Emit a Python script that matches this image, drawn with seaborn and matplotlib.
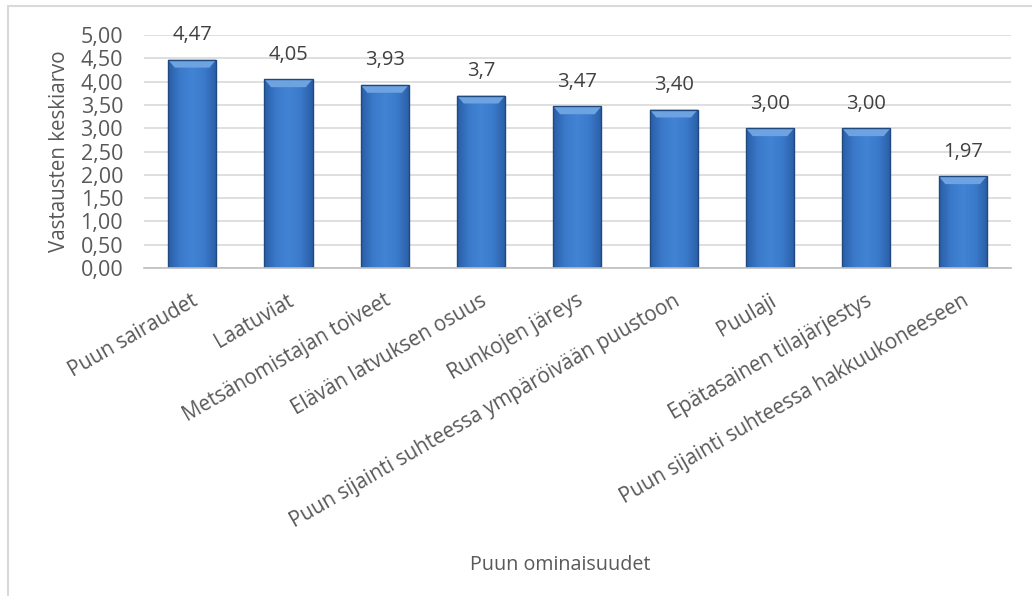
import matplotlib
matplotlib.use("Agg")
import matplotlib.pyplot as plt
import seaborn as sns
import pandas as pd
import numpy as np
from matplotlib.patches import Polygon
from matplotlib.lines import Line2D
from matplotlib.colors import LinearSegmentedColormap
import matplotlib.transforms as mtransforms

categories = ["Puun sairaudet", "Laatuviat", "Metsänomistajan toiveet",
              "Elävän latvuksen osuus", "Runkojen järeys",
              "Puun sijainti suhteessa ympäröivään puustoon", "Puulaji",
              "Epätasainen tilajärjestys", "Puun sijainti suhteessa hakkuukoneeseen"]
values = [4.47, 4.05, 3.93, 3.70, 3.47, 3.40, 3.00, 3.00, 1.97]
value_labels = ["4,47", "4,05", "3,93", "3,7", "3,47", "3,40", "3,00", "3,00", "1,97"]
ytick_vals = [0, 0.5, 1, 1.5, 2, 2.5, 3, 3.5, 4, 4.5, 5]
ytick_labels = ["0,00", "0,50", "1,00", "1,50", "2,00", "2,50", "3,00", "3,50", "4,00", "4,50", "5,00"]

df = pd.DataFrame({"cat": categories, "val": values})

sns.set_theme(style="white")
plt.rcParams['font.family'] = ['Open Sans', 'DejaVu Sans']
TXT = "#404040"
GREY = "#595959"

fig = plt.figure(figsize=(10.32, 5.96), dpi=100)
ax = fig.add_axes([0.1395, 0.5503, 0.840, 0.391])

sns.barplot(data=df, x="cat", y="val", color="#3a77c6", width=0.5,
            edgecolor="#20497f", linewidth=1.0, ax=ax, saturation=1)

# bevel-like shading: horizontal gradient clipped to each bar + light top bevel
grad_cmap = LinearSegmentedColormap.from_list(
    "bev", ["#2a5ea6", "#3b7acb", "#4283d4", "#3b7acb", "#2a5ea6"])
grad = np.linspace(0, 1, 64).reshape(1, -1)
for p in list(ax.patches):
    x0, w, h = p.get_x(), p.get_width(), p.get_height()
    im = ax.imshow(grad, cmap=grad_cmap, aspect="auto",
                   extent=(x0, x0 + w, 0, h), zorder=p.get_zorder() + 0.05)
    im.set_clip_path(p)
    bh = 0.17
    inset = w * 0.14
    ax.add_patch(Polygon([(x0, h), (x0 + w, h), (x0 + w - inset, h - bh), (x0 + inset, h - bh)],
                         closed=True, facecolor="#6ea3e2", edgecolor="none",
                         zorder=p.get_zorder() + 0.1))
    p.set_facecolor("none")
    p.set_zorder(p.get_zorder() + 0.2)

for i, (v, lab) in enumerate(zip(values, value_labels)):
    ax.text(i, v + 0.31, lab, ha="center", va="bottom", fontsize=14.5, color=TXT)

ax.set_ylim(0, 5)
ax.set_xlim(-0.5, 8.5)
ax.set_yticks(ytick_vals)
ax.set_yticklabels(ytick_labels, fontsize=15.5, color=GREY)
ax.yaxis.grid(True, color="#d9d9d9", linewidth=1.2)
ax.set_axisbelow(True)
for s in ["top", "right", "left"]:
    ax.spines[s].set_visible(False)
ax.spines["bottom"].set_color("#bfbfbf")
ax.spines["bottom"].set_linewidth(1.2)
ax.tick_params(axis="y", length=0, pad=15)
ax.tick_params(axis="x", length=0, pad=16)
ax.set_xticks(range(len(categories)))
ax.set_xticklabels(categories, rotation=30, ha="right", rotation_mode="anchor",
                   fontsize=14.8, color=GREY)
off = mtransforms.ScaledTranslation(-1 / 100, 0, fig.dpi_scale_trans)
for lbl in ax.get_xticklabels():
    lbl.set_transform(lbl.get_transform() + off)

ax.set_xlabel("")
fig.text(0.543, 0.052, "Puun ominaisuudet", ha="center", va="center",
         fontsize=14.2, color=GREY)
ax.set_ylabel("Vastausten keskiarvo", fontsize=14.8, color=GREY)
ax.yaxis.set_label_coords(-0.085, 0.5)

# chart frame (top and left edges visible)
fig.add_artist(Line2D([8 / 1032, 1.0], [1 - 6 / 596, 1 - 6 / 596], transform=fig.transFigure,
                      color="#d9d9d9", linewidth=1.5))
fig.add_artist(Line2D([8 / 1032, 8 / 1032], [0, 1 - 6 / 596], transform=fig.transFigure,
                      color="#d9d9d9", linewidth=1.5))

fig.savefig("out.png", dpi=100)
